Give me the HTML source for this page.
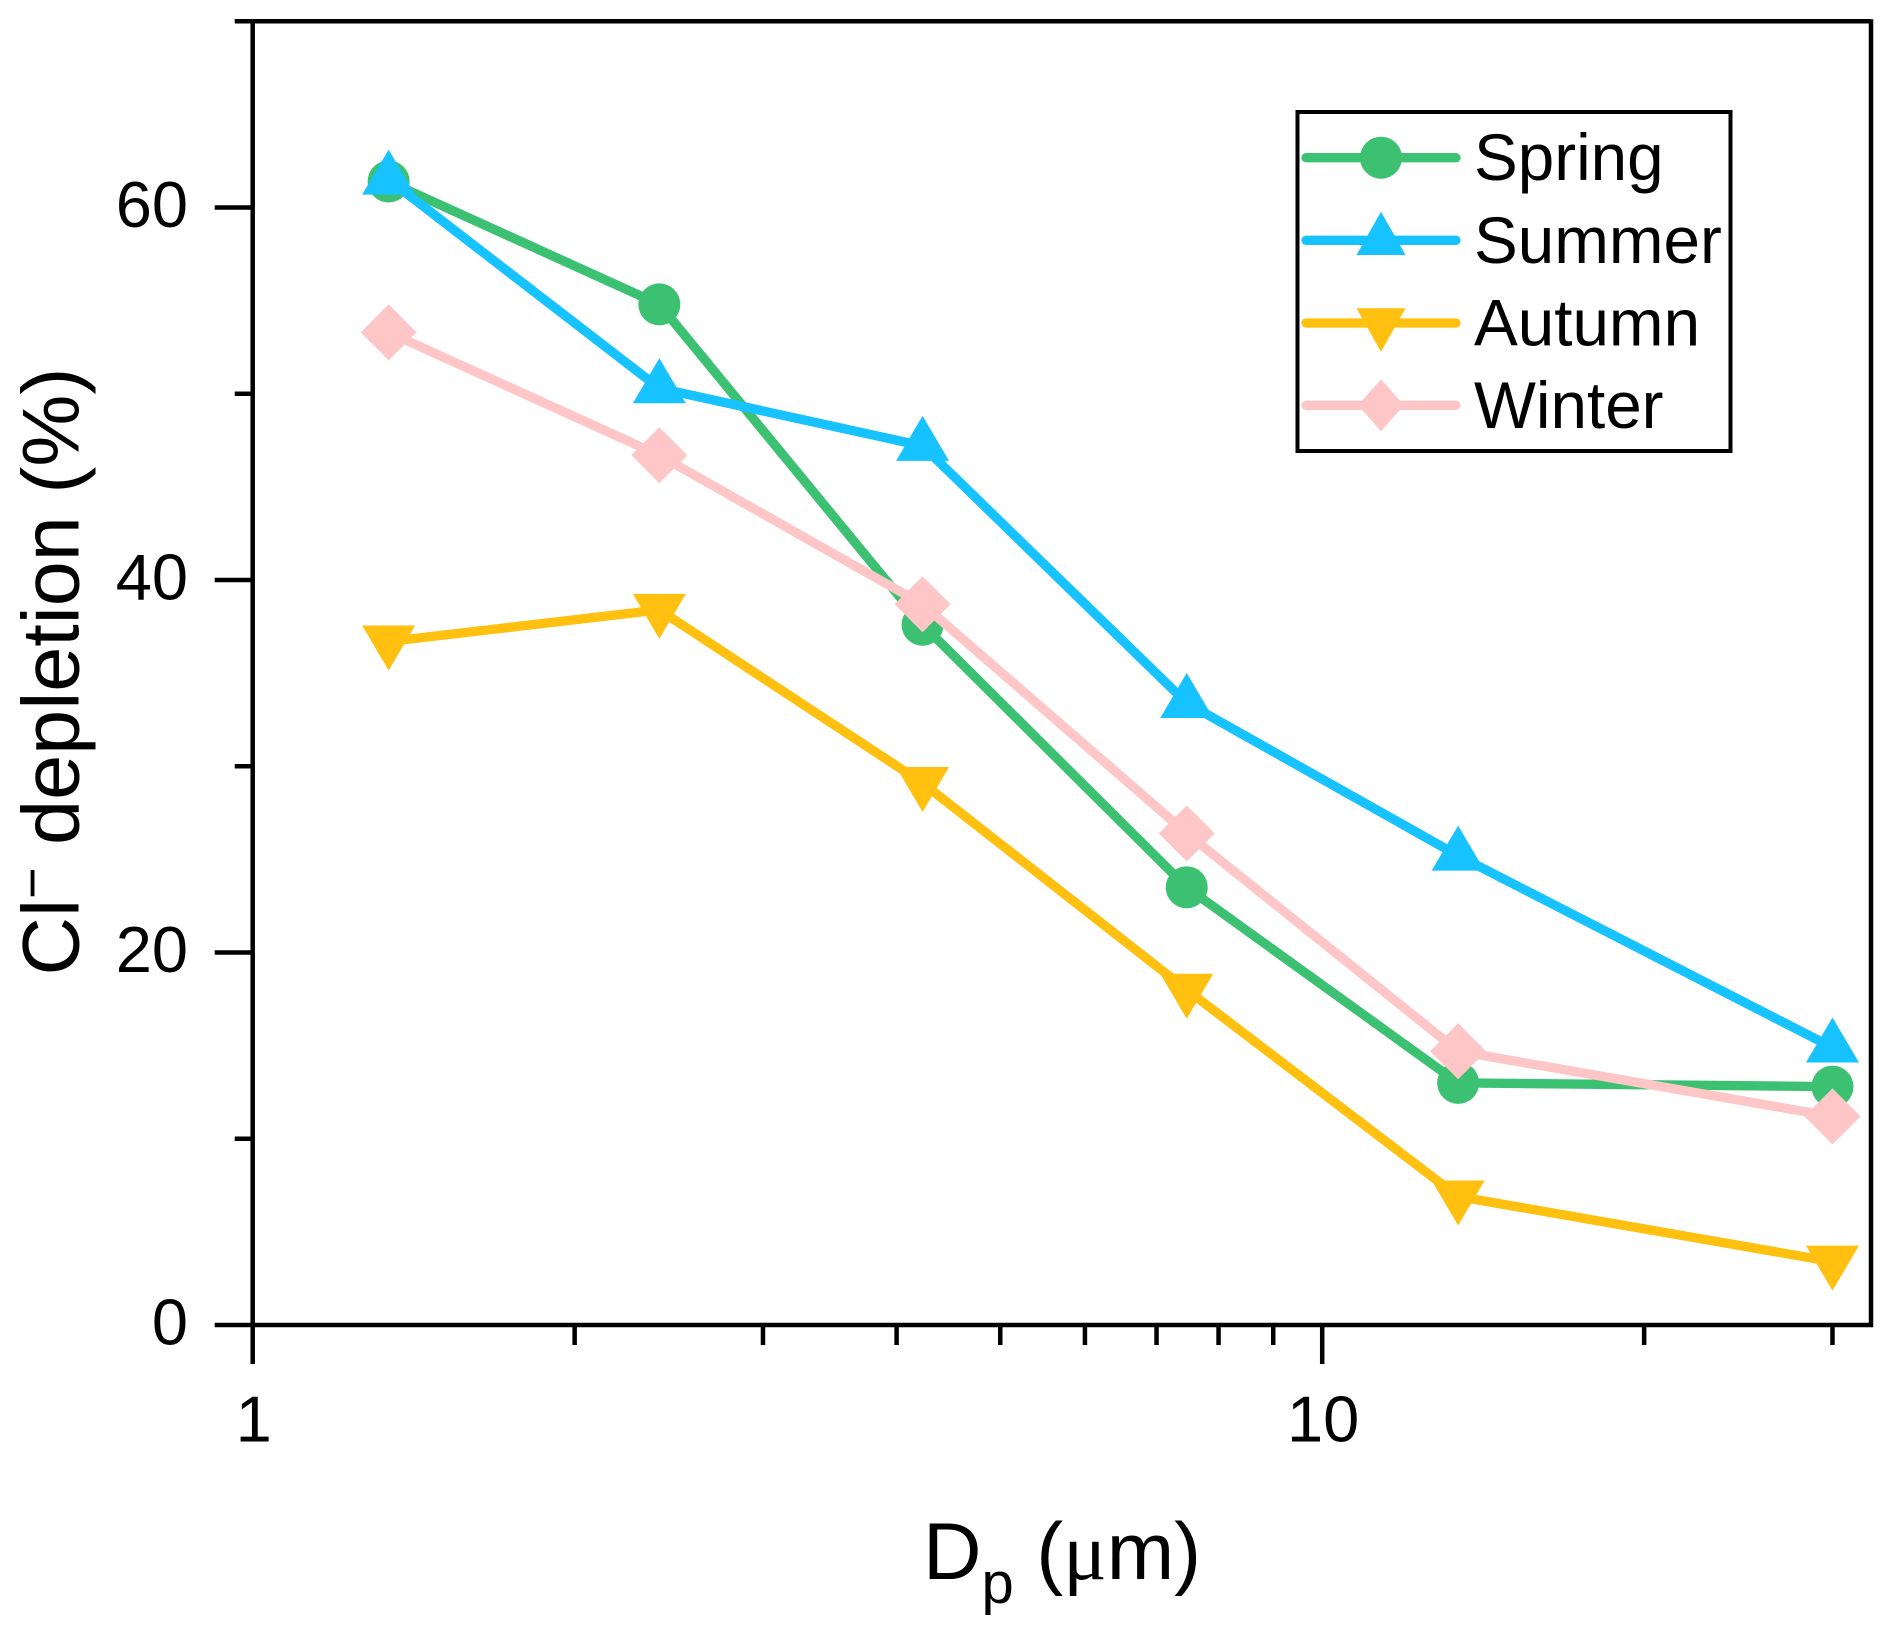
<!DOCTYPE html>
<html lang="en">
<head>
<meta charset="utf-8">
<title>Cl- depletion by particle size</title>
<style>
html,body{margin:0;padding:0;background:#fff;}
body{width:1892px;height:1631px;overflow:hidden;}
svg{display:block;}
text{font-family:"Liberation Sans",Arial,sans-serif;fill:#000;}
</style>
</head>
<body>
<svg id="chart" width="1892" height="1631" viewBox="0 0 1892 1631" xmlns="http://www.w3.org/2000/svg">
  <rect x="0" y="0" width="1892" height="1631" fill="#ffffff"/>
  <g id="series-layer"></g>
  <g id="axes-layer"></g>
  <text transform="translate(78.5,975.5) rotate(-90)" font-size="81">Cl<tspan font-size="54" dy="-28">−</tspan><tspan dy="28"> depletion (%)</tspan></text>
  <text x="923" y="1579" font-size="81">D<tspan font-size="58" dy="24">p</tspan><tspan dy="-24"> (</tspan><tspan style="font-family:'Liberation Serif','DejaVu Serif',serif">μ</tspan>m)</text>
  <g id="legend">
    <rect x="1297.5" y="112" width="433" height="339" fill="#ffffff" stroke="#000000" stroke-width="4"/>
  </g>
</svg>
<script>
// Chart data
const sizes = [1.34, 2.4, 4.23, 7.47, 13.4, 30];
const spring = [61.4, 54.8, 37.6, 23.5, 13.0, 12.8];
const summer = [61.5, 50.3, 47.2, 33.4, 25.2, 14.9];
const autumn = [36.7, 38.4, 29.1, 18.0, 6.9, 3.4];
const winter = [53.3, 46.7, 38.7, 26.4, 14.7, 11.2];
const seriesNames = ['Spring', 'Summer', 'Autumn', 'Winter'];
const yTickLabels = [0, 20, 40, 60];
const yMinorTicks = [10, 30, 50, 70];
const xTickLabels = [1, 10];
const xMinorTicks = [2, 3, 4, 5, 6, 7, 8, 9, 20, 30];

// Axis functions
const plotLeft = 252.7, plotRight = 1871, plotBottom = 1325, plotTop = 21.3;
const yPerUnit = (plotBottom - plotTop) / 70;
const xPerDecade = 1069.5;
function xScale(v) { return plotLeft + Math.log10(v) * xPerDecade; }
function yScale(v) { return plotBottom - v * yPerUnit; }

const NS = 'http://www.w3.org/2000/svg';
const seriesLayer = document.getElementById('series-layer');
const axesLayer = document.getElementById('axes-layer');
const legend = document.getElementById('legend');

function make(tag, attrs, parent) {
  const el = document.createElementNS(NS, tag);
  for (const k in attrs) el.setAttribute(k, attrs[k]);
  parent.appendChild(el);
  return el;
}

function markerShape(kind, cx, cy, color, parent, small) {
  if (kind === 'circle') {
    return make('circle', { cx: cx, cy: cy, r: 21, fill: color }, parent);
  }
  let pts;
  if (kind === 'up') {
    const w = small ? 24.5 : 26.5, a = small ? 28.5 : 30, b = small ? 14.7 : 15;
    pts = [[cx, cy - a], [cx + w, cy + b], [cx - w, cy + b]];
  } else if (kind === 'down') {
    const w = small ? 24.5 : 26.5, a = small ? 28.7 : 29, b = small ? 14.7 : 16;
    pts = [[cx, cy + a], [cx + w, cy - b], [cx - w, cy - b]];
  } else {
    const w = small ? 23 : 28, h = small ? 26 : 28;
    pts = [[cx, cy - h], [cx + w, cy], [cx, cy + h], [cx - w, cy]];
  }
  return make('polygon', { points: pts.map(p => p.join(',')).join(' '), fill: color }, parent);
}

const seriesValues = [spring, summer, autumn, winter];
const seriesColors = ['#3bc171', '#16c2ff', '#ffc00f', '#ffc6c7'];
const seriesMarkers = ['circle', 'up', 'down', 'diamond'];

// Series
seriesValues.forEach((values, s) => {
  const key = seriesNames[s].toLowerCase();
  const group = make('g', {}, seriesLayer);
  
  
  const line = make('polyline', {
    points: values.map((v, i) => xScale(sizes[i]) + ',' + yScale(v)).join(' '),
    fill: 'none', stroke: seriesColors[s], 'stroke-width': 9.3, 'stroke-linejoin': 'round'
  }, group);
  
  
  values.forEach((v, i) => {
    const m = markerShape(seriesMarkers[s], xScale(sizes[i]), yScale(v), seriesColors[s], group, false);
    
    
  });
});

// Axes
function axisLine(x1, y1, x2, y2, w, name) {
  const l = make('line', { x1: x1, y1: y1, x2: x2, y2: y2, stroke: '#000', 'stroke-width': w }, axesLayer);
  
  
  return l;
}
axisLine(plotLeft, plotTop, plotLeft, plotBottom, 4.5, 'y-axis-line');
axisLine(plotRight, plotTop - 2, plotRight, plotBottom + 2, 4.5, 'right-border');
axisLine(plotLeft, plotTop, plotRight, plotTop, 4.5, 'top-border');
axisLine(plotLeft, plotBottom, plotRight + 2, plotBottom, 4.5, 'x-axis-line');

yTickLabels.forEach(v => {
  axisLine(plotLeft - 38, yScale(v), plotLeft, yScale(v), 4.5, 'y-tick-' + v);
  const t = make('text', { x: 188, y: yScale(v) + 19.5, 'font-size': 65, 'text-anchor': 'end' }, axesLayer);
  
  
  t.textContent = String(v);
});
yMinorTicks.forEach(v => {
  axisLine(plotLeft - 18, yScale(v), plotLeft, yScale(v), 4.5, 'y-minor-tick-' + v);
});
xTickLabels.forEach(v => {
  axisLine(xScale(v), plotBottom, xScale(v), plotBottom + 39, 4.5, 'x-tick-' + v);
  const t = make('text', { x: xScale(v) + 1, y: 1441.5, 'font-size': 65, 'text-anchor': 'middle' }, axesLayer);
  
  
  t.textContent = String(v);
});
xMinorTicks.forEach(v => {
  axisLine(xScale(v), plotBottom, xScale(v), plotBottom + 20, 4.5, 'x-minor-tick-' + v);
});

// Legend
const legendRowY = [157.7, 240.3, 323, 405.3];
seriesNames.forEach((name, s) => {
  const key = name.toLowerCase();
  const y = legendRowY[s];
  const row = make('g', {}, legend);
  
  
  const l = make('line', { x1: 1306, y1: y, x2: 1456, y2: y, stroke: seriesColors[s], 'stroke-width': 9.3, 'stroke-linecap': 'round' }, row);
  
  
  const m = markerShape(seriesMarkers[s], 1381, y, seriesColors[s], row, true);
  
  
  const t = make('text', { x: 1474, y: y + 22.5, 'font-size': 65.6 }, row);
  
  
  t.textContent = name;
});
</script>
</body>
</html>
